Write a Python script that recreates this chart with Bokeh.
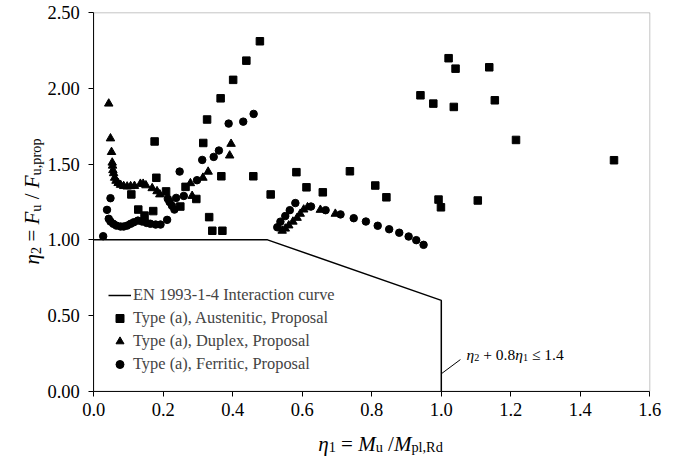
import math
from bokeh.plotting import figure
from bokeh.models import Range1d, FixedTicker, PrintfTickFormatter, Label, Legend, BoxAnnotation
from bokeh.embed import file_html
from bokeh.resources import INLINE

FONT = "Liberation Serif"

# ---------------- data ----------------
curve_x = [0.0, 0.5, 1.0, 1.0]
curve_y = [1.0, 1.0, 0.6, 0.0]

aus_x = [0.108, 0.128, 0.146, 0.171, 0.175, 0.180, 0.208, 0.249, 0.264, 0.295,
         0.315, 0.326, 0.332, 0.341, 0.365, 0.367, 0.370, 0.401, 0.439, 0.459,
         0.478, 0.509, 0.583, 0.612, 0.659, 0.737, 0.810, 0.842, 0.940, 0.977,
         0.992, 0.999, 1.021, 1.036, 1.041, 1.105, 1.138, 1.154, 1.215, 1.497]
aus_y = [1.30, 1.20, 1.16, 1.19, 1.65, 1.41, 1.32, 1.22, 1.35, 1.27,
         1.64, 1.795, 1.15, 1.06, 1.935, 1.42, 1.06, 2.057, 2.184, 1.42,
         2.312, 1.30, 1.447, 1.347, 1.314, 1.453, 1.359, 1.281, 1.955, 1.90,
         1.266, 1.215, 2.20, 1.878, 2.131, 1.26, 2.14, 1.922, 1.66, 1.526]

dup_x = [0.043, 0.048, 0.051, 0.053, 0.054, 0.055, 0.057, 0.060, 0.064, 0.070,
         0.077, 0.086, 0.096, 0.106, 0.117, 0.134, 0.142, 0.150, 0.168, 0.182,
         0.190, 0.278, 0.283, 0.314, 0.329, 0.391, 0.395,
         0.542, 0.551, 0.561, 0.573, 0.585, 0.594, 0.604, 0.615, 0.652, 0.695]
dup_y = [1.90, 1.67, 1.58, 1.51, 1.49, 1.46, 1.44, 1.41, 1.39, 1.375,
         1.363, 1.355, 1.352, 1.354, 1.356, 1.37, 1.37, 1.36, 1.341, 1.321,
         1.30, 1.374, 1.29, 1.41, 1.45, 1.557, 1.634,
         1.06, 1.074, 1.095, 1.12, 1.145, 1.172, 1.20, 1.215, 1.198, 1.172]

fer_x = [0.027, 0.038, 0.048, 0.043, 0.048, 0.056, 0.065, 0.077, 0.086, 0.096,
         0.106, 0.115, 0.127, 0.139, 0.152, 0.163, 0.178, 0.192, 0.211, 0.213,
         0.218, 0.225, 0.232, 0.237, 0.247, 0.259, 0.297, 0.312, 0.345, 0.360,
         0.388, 0.430, 0.460,
         0.528, 0.537, 0.551, 0.564, 0.580, 0.625, 0.667, 0.710, 0.748, 0.783,
         0.817, 0.850, 0.879, 0.906, 0.928, 0.949]
fer_y = [1.024, 1.198, 1.275, 1.139, 1.121, 1.106, 1.094, 1.088, 1.088, 1.094,
         1.106, 1.116, 1.127, 1.121, 1.112, 1.106, 1.101, 1.101, 1.132, 1.271,
         1.25, 1.225, 1.20, 1.277, 1.451, 1.29, 1.394, 1.528, 1.548, 1.59,
         1.768, 1.781, 1.832,
         1.083, 1.12, 1.157, 1.196, 1.243, 1.22, 1.196, 1.168, 1.143, 1.121,
         1.093, 1.07, 1.047, 1.022, 0.998, 0.967]

leader_x = [1.0, 1.055]
leader_y = [0.115, 0.209]

x_min, x_max = 0.0, 1.6
y_min, y_max = 0.0, 2.5
x_ticks = [0.0, 0.2, 0.4, 0.6, 0.8, 1.0, 1.2, 1.4, 1.6]
y_ticks = [0.0, 0.5, 1.0, 1.5, 2.0, 2.5]

legend_labels = ["EN 1993-1-4 Interaction curve",
                 "Type (a), Austenitic, Proposal",
                 "Type (a), Duplex, Proposal",
                 "Type (a), Ferritic, Proposal"]

# ---------------- layout (page pixels of the plot area) ----------------
W, H = 681, 459
PX0, PX1 = 93.3, 649.3     # page x of x_min / x_max
PY0, PY1 = 390.7, 12.3     # page y of y_min / y_max
kx = (PX1 - PX0) / (x_max - x_min)
ky = (PY0 - PY1) / (y_max - y_min)
xr = Range1d(x_min - PX0 / kx, x_max + (W - PX1) / kx)
yr = Range1d(y_min - (H - PY0) / ky, y_max + PY1 / ky)

p = figure(width=W, height=H, output_backend="svg", toolbar_location=None,
           x_range=xr, y_range=yr,
           min_border_left=0, min_border_right=0, min_border_top=0, min_border_bottom=0)
p.title.visible = False
p.background_fill_color = "white"
p.border_fill_color = "white"
p.outline_line_color = None
p.grid.visible = False

p.xaxis.fixed_location = y_min
p.yaxis.fixed_location = x_min
p.xaxis.bounds = (x_min, x_max)
p.yaxis.bounds = (y_min, y_max)

for ax in (p.xaxis[0], p.yaxis[0]):
    ax.axis_line_color = "black"
    ax.axis_line_width = 1
    ax.major_tick_line_color = "black"
    ax.major_tick_out = 5
    ax.major_tick_in = 0
    ax.minor_tick_out = 0
    ax.minor_tick_in = 0
    ax.major_label_text_font = FONT
    ax.major_label_text_font_size = "18.5px"
    ax.major_label_text_color = "black"

p.xaxis.ticker = FixedTicker(ticks=x_ticks)
p.yaxis.ticker = FixedTicker(ticks=y_ticks)
p.xaxis.formatter = PrintfTickFormatter(format="%.1f")
p.yaxis.formatter = PrintfTickFormatter(format="%.2f")
p.xaxis.major_label_standoff = 7
p.yaxis.major_label_standoff = 9

# plot-area border (top / right)
p.add_layout(BoxAnnotation(left=x_min, right=x_max, bottom=y_min, top=y_max,
                           fill_alpha=0, line_color="#404040", line_width=1))

r_curve = p.line(curve_x, curve_y, line_color="black", line_width=1.5)
r_aus = p.scatter(aus_x, aus_y, marker="square", size=7.5, fill_color="black", line_color="black")
r_dup = p.scatter(dup_x, dup_y, marker="triangle", size=8.5, fill_color="black", line_color="black")
r_fer = p.scatter(fer_x, fer_y, marker="circle", size=7.5, fill_color="black", line_color="black")
p.line(leader_x, leader_y, line_color="black", line_width=1)

legend = Legend(items=[(legend_labels[0], [r_curve]), (legend_labels[1], [r_aus]),
                       (legend_labels[2], [r_dup]), (legend_labels[3], [r_fer])],
                location=(108, H - 374), padding=0, spacing=3, glyph_width=23, glyph_height=20,
                label_height=20, label_standoff=2, margin=0,
                label_text_font=FONT, label_text_font_size="16.4px",
                background_fill_alpha=0, border_line_alpha=0)
p.add_layout(legend, "center")

# ---------------- rich text helper ----------------
W_N = {' ': .25, '=': .564, '/': .278, '+': .564, '\u2264': .549, '.': .25, ',': .25,
       'p': .5, 'l': .278, 'R': .667, 'd': .5, 'u': .5, 'r': .333, 'o': .5}
W_I = {'\u03b7': .5, 'M': .833, 'F': .611}


def tw(txt, italic):
    tab = W_I if italic else W_N
    return sum(tab.get(c, .5) for c in txt)


def rich(pieces, px, py, base, angle=0.0, center=True, sub=0.66, drop_f=0.2):
    """px, py: page pixel position of the (centre/start of the) baseline."""
    cx, cy = px, H - py
    ca, sa = math.cos(angle), math.sin(angle)
    sizes = []
    total = 0.0
    for txt, st in pieces:
        size = base * sub if 's' in st else base
        sizes.append(size)
        total += tw(txt, 'i' in st) * size
    cur = -total / 2 if center else 0.0
    for (txt, st), size in zip(pieces, sizes):
        italic = 'i' in st
        lead = len(txt) - len(txt.lstrip(' '))
        core = txt.strip(' ')
        start = cur + lead * W_N[' '] * size
        drop = base * drop_f if 's' in st else 0.0
        lx = cx + start * ca + drop * sa
        ly = cy + start * sa - drop * ca
        p.add_layout(Label(x=lx, y=ly, x_units="screen", y_units="screen", text=core,
                           angle=angle, text_font=FONT, text_font_size=f"{size:.1f}px",
                           text_font_style="italic" if italic else "normal",
                           text_baseline="alphabetic", text_align="left", text_color="black"))
        cur += tw(txt, italic) * size


xlab = [("\u03b7", "i"), ("1", "s"), (" = ", "n"), ("M", "i"), ("u", "s"), (" /", "n"),
        ("M", "i"), ("pl,Rd", "s")]
ylab = [("\u03b7", "i"), ("2", "s"), (" = ", "n"), ("F", "i"), ("u", "s"), (" / ", "n"),
        ("F", "i"), ("u,prop", "s")]
ann = [("\u03b7", "i"), ("2", "s"), (" + 0.8", "n"), ("\u03b7", "i"), ("1", "s"),
       (" \u2264 1.4", "n")]

rich(xlab, 380, 443, 21, sub=0.68, drop_f=0.17)
rich(ylab, 31, 201, 21, angle=math.pi / 2, sub=0.68)
rich(ann, 466, 354, 15.5, center=False)

open("out.html", "w").write(file_html(p, INLINE))
